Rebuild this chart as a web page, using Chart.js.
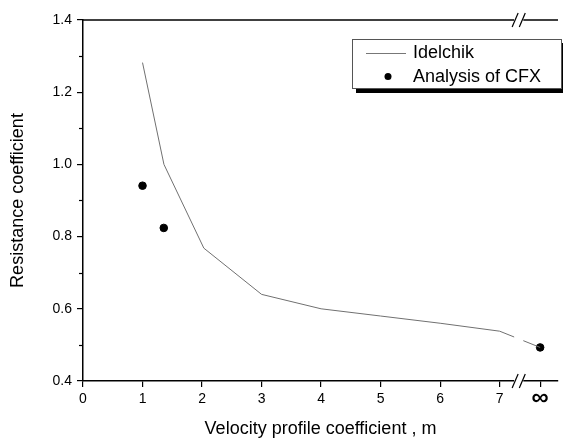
<!DOCTYPE html>
<html><head><meta charset="utf-8">
<script src="https://cdn.jsdelivr.net/npm/chart.js@4"></script>
<style>html,body{margin:0;padding:0;background:#fff}#wrap{width:563px;height:442px}</style>
</head><body><div id="wrap"><canvas id="c" width="563" height="442"></canvas></div>
<script>
// Data (∞ is placed at x = 7.68 after the axis break)
const INF_X = 7.68;
const idelchikX = [1, 1.36, 2.03, 3, 4, 5, 6, 7, INF_X];
const idelchikY = [1.282, 1.0, 0.768, 0.64, 0.60, 0.58, 0.56, 0.538, 0.493];
const cfxX = [1, 1.357, INF_X];
const cfxY = [0.941, 0.824, 0.493];
const xTickValues = [0, 1, 2, 3, 4, 5, 6, 7, INF_X];
const xTickLabels = ['0', '1', '2', '3', '4', '5', '6', '7', '\u221E'];
const yTickValues = [0.4, 0.5, 0.6, 0.7, 0.8, 0.9, 1.0, 1.1, 1.2, 1.3, 1.4];
const seriesLabels = ['Idelchik', 'Analysis of CFX'];
const BREAK_FROM = 7.26, BREAK_TO = 7.38;

const FONT = 'Arial, "Liberation Sans", sans-serif';
const isMajorY = v => Math.round(v * 10) % 2 === 0;

const breakPlugin = {
  id: 'breakPlugin',
  afterDraw(chart) {
    const {ctx, chartArea: a, scales: {x, y}} = chart;
    const x1 = x.getPixelForValue(BREAK_FROM), x2 = x.getPixelForValue(BREAK_TO);
    ctx.save();
    // top border
    ctx.strokeStyle = '#000'; ctx.lineWidth = 1.5;
    ctx.beginPath(); ctx.moveTo(a.left, a.top); ctx.lineTo(a.right, a.top); ctx.stroke();
    // minor y ticks (shorter)
    ctx.lineWidth = 1.2;
    yTickValues.filter(v => !isMajorY(v)).forEach(v => {
      const py = Math.round(y.getPixelForValue(v)) + 0.5;
      ctx.beginPath(); ctx.moveTo(a.left - 4, py); ctx.lineTo(a.left, py); ctx.stroke();
    });
    // gap
    ctx.fillStyle = '#fff';
    ctx.fillRect(x1 - 1, a.top - 3, x2 - x1 + 2, a.bottom - a.top + 6);
    // slashes
    ctx.lineWidth = 1.2;
    [a.top, a.bottom].forEach(yy => {
      [x1, x2].forEach(xx => {
        ctx.beginPath(); ctx.moveTo(xx - 3, yy + 7); ctx.lineTo(xx + 3, yy - 7); ctx.stroke();
      });
    });
    // infinity tick label
    ctx.fillStyle = '#000';
    ctx.font = 'bold 24px ' + FONT; ctx.textAlign = 'center'; ctx.textBaseline = 'middle';
    ctx.fillText(xTickLabels[xTickValues.indexOf(INF_X)], x.getPixelForValue(INF_X), 398);
    // legend box
    const lx = 352, ly = 39, lw = 209, lh = 49;
    ctx.fillStyle = '#000';
    ctx.fillRect(lx + 4, ly + lh, lw + 4, 5);
    ctx.fillRect(lx + lw, ly + 4, 5, lh + 1);
    ctx.fillStyle = '#fff';
    ctx.fillRect(lx, ly, lw, lh);
    ctx.strokeStyle = '#555'; ctx.lineWidth = 1;
    ctx.strokeRect(lx + 0.5, ly + 0.5, lw, lh);
    ctx.strokeStyle = '#777'; ctx.lineWidth = 1;
    ctx.beginPath(); ctx.moveTo(366, 53.5); ctx.lineTo(406, 53.5); ctx.stroke();
    ctx.fillStyle = '#000';
    ctx.beginPath(); ctx.arc(388, 76.5, 3.5, 0, Math.PI * 2); ctx.fill();
    ctx.font = '18px ' + FONT; ctx.textBaseline = 'middle'; ctx.textAlign = 'left';
    ctx.fillText(seriesLabels[0], 413, 53);
    ctx.fillText(seriesLabels[1], 413, 77);
    ctx.restore();
  }
};

new Chart(document.getElementById('c'), {
  type: 'scatter',
  data: {
    datasets: [
      {
        label: seriesLabels[0],
        data: idelchikX.map((v, i) => ({x: v, y: idelchikY[i]})),
        showLine: true, borderColor: '#707070', borderWidth: 1, pointRadius: 0, tension: 0
      },
      {
        label: seriesLabels[1],
        data: cfxX.map((v, i) => ({x: v, y: cfxY[i]})),
        showLine: false, backgroundColor: '#000', borderColor: '#000', pointRadius: 3.8
      }
    ]
  },
  options: {
    responsive: false, animation: false, devicePixelRatio: 1,
    layout: {padding: {top: 20, right: 0, left: 0, bottom: 0}},
    plugins: {legend: {display: false}, tooltip: {enabled: false}},
    scales: {
      x: {
        type: 'linear', min: 0, max: 7.98,
        afterBuildTicks: s => { s.ticks = xTickValues.map(v => ({value: v})); },
        afterFit: s => { s.height = 61; },
        grid: {drawOnChartArea: false, color: '#000', tickLength: 6, lineWidth: 1.2},
        border: {color: '#000', width: 1.5},
        ticks: {
          color: '#000', padding: 4, maxRotation: 0, autoSkip: false,
          callback: v => { const i = xTickValues.indexOf(v); return (i >= 0 && v !== INF_X) ? xTickLabels[i] : ''; },
          font: {family: FONT, size: 14}
        },
        title: {display: true, text: 'Velocity profile coefficient , m', color: '#000', font: {family: FONT, size: 18}, padding: {top: 0, bottom: 2}}
      },
      y: {
        type: 'linear', min: 0.4, max: 1.4,
        afterBuildTicks: s => { s.ticks = yTickValues.map(v => ({value: v})); },
        afterFit: s => { s.width = 83; },
        grid: {
          drawOnChartArea: false, tickLength: 6, lineWidth: 1.2,
          tickColor: c => (c.tick && isMajorY(c.tick.value)) ? '#000' : 'rgba(0,0,0,0)'
        },
        border: {color: '#000', width: 1.5},
        ticks: {
          color: '#000', padding: 5,
          callback: v => isMajorY(v) ? v.toFixed(1) : '',
          font: {family: FONT, size: 14}
        },
        title: {display: true, text: 'Resistance coefficient', color: '#000', font: {family: FONT, size: 18}, padding: {top: 7, bottom: 0}}
      }
    }
  },
  plugins: [breakPlugin]
});
</script></body></html>
